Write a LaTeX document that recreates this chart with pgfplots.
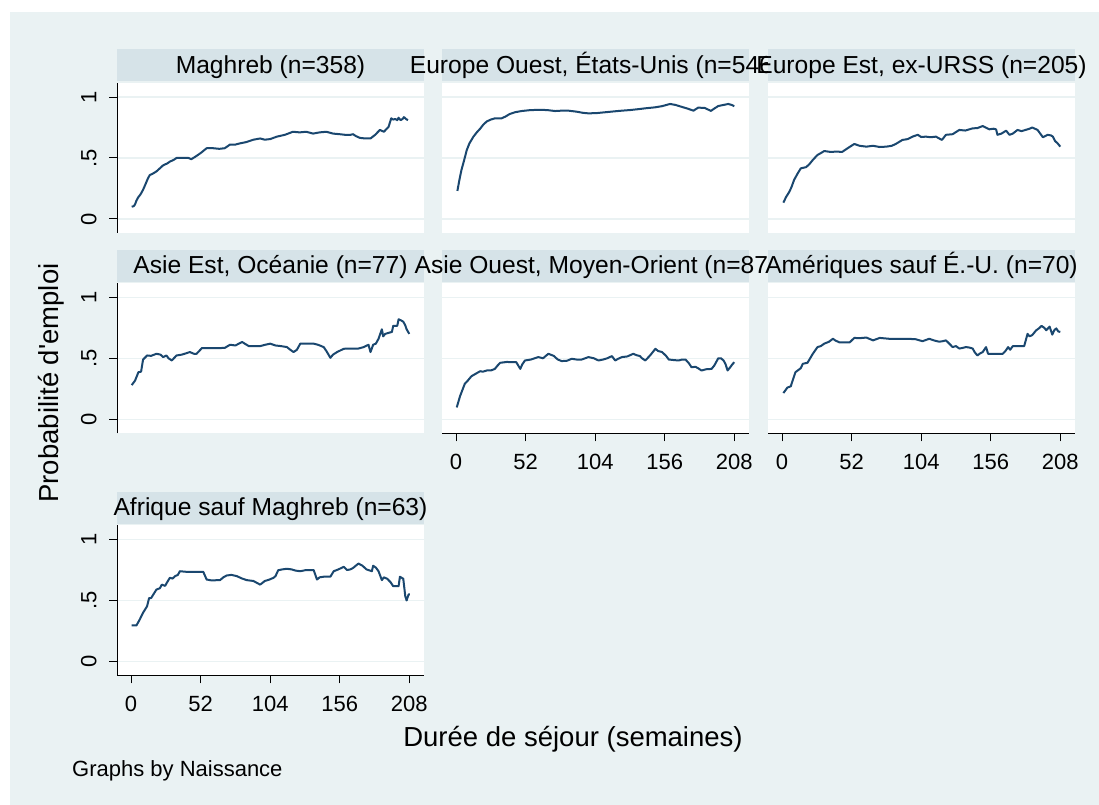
\documentclass[border=0pt]{standalone}
\usepackage{fontspec}
\setmainfont{Liberation Sans}
\usepackage{pgfplots}
\pgfplotsset{compat=1.18}
\definecolor{bgc}{RGB}{234,242,243}
\definecolor{stripc}{RGB}{214,227,232}
\definecolor{gridc}{RGB}{234,242,243}
\definecolor{navyc}{RGB}{26,71,111}
\newcommand\titlefont{\fontsize{24.6bp}{28bp}\selectfont}
\newcommand\strip[3]{%
  \fill[stripc] (#1,#2) rectangle ++(307,32);
  \node[anchor=base, font=\titlefont, inner sep=0pt] at (#1+153.5,#2+8) {#3};}
\pgfplotsset{
  panel/.style={
    scale only axis, width=307bp, height=150bp,
    xmin=-10.5, xmax=219, ymin=-0.115, ymax=1.115,
    axis background/.style={fill=white},
    ymajorgrids, major grid style={draw=gridc, line width=1.3bp},
    ytick={0,0.5,1}, yticklabels={0,.5,1},
    xtick={0,52,104,156,208}, xticklabels={0,52,104,156,208},
    tick align=outside, major tick length=8bp,
    tick style={black, line width=1bp},
    axis x line*=bottom, axis y line*=left,
    axis line style={-, line width=1bp, black},
    tick label style={font=\fontsize{22bp}{26bp}\selectfont},
    yticklabel style={rotate=90, anchor=south},
    xticklabel style={anchor=north},
    yticklabel shift=9bp, xticklabel shift=9bp,
  },
  noxaxis/.style={xtick=\empty, x axis line style={draw=none}},
  noyaxis/.style={yticklabels={}, ytick style={draw=none}, y axis line style={draw=none}},
  curve/.style={color=navyc, line width=2bp, line join=round},
}
\begin{document}
\begin{tikzpicture}[x=1bp,y=1bp]
\path[use as bounding box] (0,0) rectangle (1099,805);
\fill[white] (0,0) rectangle (1099,805);
\fill[bgc] (10,0) rectangle (1099,793);

% Panel 1: Maghreb
\begin{axis}[panel, noxaxis, at={(117bp,572bp)}, anchor=south west]
\addplot[curve] coordinates {
(0.5,0.10) (2,0.105) (3,0.12) (4,0.15) (5.5,0.18) (7,0.20) (9,0.24) (11,0.29) (12.5,0.33) (14,0.36)
(16,0.37) (19,0.39) (21,0.41) (24,0.44) (27,0.455) (29,0.47) (32,0.485) (34,0.50) (38,0.50) (43,0.50)
(45,0.49) (48,0.51) (52,0.54) (56.5,0.58) (61.5,0.58) (66,0.575) (70,0.58) (74,0.61) (78,0.61) (81.5,0.62)
(86,0.63) (91.5,0.65) (96.5,0.66) (100,0.65) (104,0.655) (109,0.675) (115,0.69) (121,0.715) (126,0.71) (131,0.715)
(136,0.70) (141,0.71) (146,0.715) (151,0.70) (156,0.695) (160,0.69) (164,0.69) (166,0.695) (168,0.68) (171,0.665)
(175,0.66) (179,0.66) (182.5,0.69) (186,0.73) (189,0.715) (192.5,0.755) (194.5,0.825) (196,0.815) (197.5,0.82) (199,0.81)
(200,0.83) (201.5,0.81) (203,0.82) (204,0.835) (205.5,0.82) (207,0.81)
};
\end{axis}
\strip{117}{723.5}{Maghreb (n=358)}

% Panel 2: Europe Ouest
\begin{axis}[panel, noxaxis, noyaxis, at={(442bp,572bp)}, anchor=south west]
\addplot[curve] coordinates {
(1,0.23) (2.5,0.32) (4,0.40) (6,0.48) (8,0.565) (10,0.62) (13,0.675) (15.5,0.71) (18,0.74) (20.5,0.775)
(23,0.80) (26,0.815) (29,0.825) (34,0.825) (37,0.84) (40,0.86) (44,0.875) (49,0.885) (55,0.892) (61.5,0.895)
(68,0.893) (74,0.885) (79,0.888) (84,0.888) (90,0.88) (95,0.87) (99,0.866) (105,0.868) (111.5,0.875) (118,0.882)
(124,0.888) (130,0.893) (136,0.90) (142,0.908) (148.5,0.915) (154,0.925) (160,0.943) (164,0.935) (168.5,0.92) (173,0.905)
(177.5,0.888) (181,0.913) (186,0.91) (190.5,0.886) (193,0.905) (196,0.926) (200,0.935) (203.5,0.943) (206,0.935) (208,0.925)
};
\end{axis}
\strip{442}{723.5}{Europe Ouest, États-Unis (n=546)}

% Panel 3: Europe Est
\begin{axis}[panel, noxaxis, noyaxis, at={(768bp,572bp)}, anchor=south west]
\addplot[curve] coordinates {
(1,0.134) (3,0.18) (5.5,0.224) (7,0.26) (9,0.32) (11.5,0.37) (14,0.415) (18,0.425) (20.5,0.45) (23,0.484)
(26.5,0.525) (29,0.54) (31.5,0.557) (36,0.55) (41,0.552) (45,0.55) (49,0.58) (54,0.615) (58,0.60) (63,0.593)
(68,0.60) (73,0.59) (78,0.593) (82,0.60) (85,0.615) (90,0.648) (94,0.655) (97.5,0.675) (101.5,0.69) (104,0.672)
(107.5,0.675) (111,0.67) (115,0.675) (119.5,0.648) (122.5,0.69) (127.5,0.695) (132.5,0.73) (137,0.725) (142.5,0.743) (146,0.745)
(150,0.762) (153,0.745) (155,0.735) (158,0.74) (160,0.735) (161,0.69) (164,0.70) (167.5,0.724) (170,0.69) (172.5,0.70)
(176,0.73) (179,0.72) (182,0.73) (185,0.74) (187,0.75) (189,0.74) (191,0.73) (193,0.70) (195,0.67) (198.5,0.69)
(201,0.685) (202.5,0.675) (204,0.64) (206,0.62) (208,0.593)
};
\end{axis}
\strip{768}{723.5}{Europe Est, ex-URSS (n=205)}

% Panel 4: Asie Est
\begin{axis}[panel, noxaxis, at={(117bp,371.7bp)}, anchor=south west]
\addplot[curve] coordinates {
(0.5,0.28) (3,0.317) (5.5,0.386) (7.5,0.39) (9,0.49) (12,0.523) (15,0.52) (19,0.537) (22,0.53) (24,0.51)
(26.5,0.523) (28,0.50) (30.5,0.482) (32,0.50) (34,0.523) (38,0.53) (44,0.551) (47,0.537) (49,0.537) (53,0.584)
(60,0.584) (66.5,0.584) (70,0.585) (74,0.611) (78,0.605) (83,0.634) (85,0.62) (88,0.60) (96.5,0.60) (100,0.61)
(104,0.62) (108,0.605) (112,0.60) (116.5,0.592) (119,0.57) (121.5,0.551) (124,0.57) (126.5,0.62) (131,0.62) (136.5,0.62)
(140,0.61) (144,0.592) (146,0.56) (149,0.504) (151,0.53) (154,0.551) (159,0.578) (165,0.58) (170,0.58) (174,0.592)
(177.5,0.611) (179,0.551) (181,0.611) (183,0.62) (185,0.66) (187.5,0.738) (188.5,0.68) (190,0.70) (193,0.71) (195,0.716)
(196,0.766) (199,0.766) (200,0.82) (202,0.81) (203.5,0.80) (205,0.77) (206,0.738) (208,0.70)
};
\end{axis}
\strip{117}{523.2}{Asie Est, Océanie (n=77)}

% Panel 5: Asie Ouest
\begin{axis}[panel, noyaxis, at={(442bp,371.7bp)}, anchor=south west]
\addplot[curve] coordinates {
(0.5,0.097) (3,0.19) (6.5,0.29) (9,0.32) (11.5,0.353) (15,0.375) (18,0.394) (20,0.39) (23,0.40) (26,0.40)
(29,0.413) (31,0.44) (33,0.463) (38,0.47) (42,0.468) (45,0.468) (48,0.413) (49.5,0.45) (51.5,0.482) (56,0.49)
(61.5,0.51) (65,0.50) (69,0.537) (73,0.52) (76,0.49) (79,0.477) (83,0.48) (86.5,0.496) (90,0.49) (94,0.49)
(99,0.51) (103,0.50) (106.5,0.482) (110,0.49) (113,0.50) (116.5,0.518) (119,0.482) (121,0.495) (124,0.51) (128,0.515)
(132.5,0.537) (135,0.525) (137.5,0.518) (139,0.50) (141.5,0.482) (145,0.523) (147,0.55) (149,0.578) (151,0.56) (154,0.551)
(157,0.52) (159,0.49) (163,0.485) (166.5,0.482) (169,0.49) (171.5,0.49) (174,0.46) (176,0.427) (179,0.43) (181,0.418)
(183.5,0.40) (187,0.41) (191,0.413) (193,0.44) (196,0.50) (198,0.50) (200,0.482) (201.5,0.45) (203,0.40) (205,0.427)
(206.5,0.45) (208,0.468)
};
\end{axis}
\strip{442}{523.2}{Asie Ouest, Moyen-Orient (n=87)}

% Panel 6: Ameriques
\begin{axis}[panel, noyaxis, at={(768bp,371.7bp)}, anchor=south west]
\addplot[curve] coordinates {
(1,0.215) (4,0.26) (6.5,0.27) (8,0.32) (10,0.386) (14,0.419) (15.5,0.455) (19,0.463) (21,0.50) (23,0.537)
(26.5,0.592) (29,0.60) (31.5,0.62) (35,0.635) (38,0.66) (40,0.645) (43,0.63) (47,0.63) (50.5,0.63) (54,0.667)
(58,0.665) (63,0.67) (68,0.647) (73,0.667) (80,0.66) (87.5,0.66) (94,0.66) (100,0.656) (105,0.64) (110,0.66)
(114,0.645) (117.5,0.636) (120,0.64) (122.5,0.647) (125,0.62) (127.5,0.592) (130,0.60) (132.5,0.58) (135,0.585) (137.5,0.592)
(140,0.588) (142.5,0.58) (144,0.55) (146,0.523) (148,0.54) (150,0.551) (152.5,0.592) (154,0.537) (160,0.537) (165,0.537)
(167,0.56) (169,0.592) (170.5,0.57) (172.5,0.60) (176,0.60) (181,0.60) (183.5,0.70) (185,0.68) (187,0.69) (190,0.73)
(192,0.745) (194,0.766) (196,0.75) (197.5,0.73) (200,0.76) (202,0.694) (203.5,0.73) (205,0.745) (206.5,0.72) (208,0.716)
};
\end{axis}
\strip{768}{523.2}{Amériques sauf É.-U. (n=70)}

% Panel 7: Afrique
\begin{axis}[panel, at={(117bp,129.5bp)}, anchor=south west]
\addplot[curve] coordinates {
(0.5,0.295) (4,0.295) (6.5,0.344) (9,0.40) (12,0.453) (13.5,0.52) (15,0.52) (17,0.555) (19,0.59) (21.5,0.60)
(23,0.63) (25.5,0.62) (27,0.65) (29,0.686) (31,0.68) (33,0.70) (35,0.71) (36.5,0.74) (41.5,0.735) (47,0.735)
(54,0.735) (56.5,0.672) (60,0.665) (66.5,0.667) (69,0.69) (71.5,0.705) (75,0.71) (79,0.70) (83,0.68) (86.5,0.667)
(91.5,0.66) (94,0.645) (96.5,0.63) (100,0.66) (103,0.67) (106.5,0.686) (108,0.70) (110,0.748) (113,0.755) (116.5,0.76)
(120,0.755) (123,0.745) (126.5,0.74) (131,0.75) (136.5,0.75) (139,0.672) (141,0.69) (144,0.695) (149,0.695) (151.5,0.74)
(155,0.755) (159,0.776) (161.5,0.75) (164,0.755) (166,0.767) (168,0.785) (170,0.803) (173,0.785) (176,0.755) (180,0.74)
(181,0.785) (183,0.77) (185,0.74) (187.5,0.667) (189,0.69) (191.5,0.678) (194,0.65) (196,0.617) (200,0.617) (201,0.695)
(203.5,0.678) (205,0.535) (206,0.50) (207.5,0.55) (208.5,0.55)
};
\end{axis}
\strip{117}{281}{Afrique sauf Maghreb (n=63)}

\node[rotate=90, anchor=base, font=\fontsize{27.5bp}{32bp}\selectfont, inner sep=0pt] at (58,422) {Probabilité d\textquotesingle emploi};
\node[anchor=base, font=\fontsize{27.5bp}{32bp}\selectfont, inner sep=0pt] at (573,58.3) {Durée de séjour (semaines)};
\node[anchor=base west, font=\fontsize{22bp}{26bp}\selectfont, inner sep=0pt] at (72,28) {Graphs by Naissance};
\end{tikzpicture}
\end{document}
